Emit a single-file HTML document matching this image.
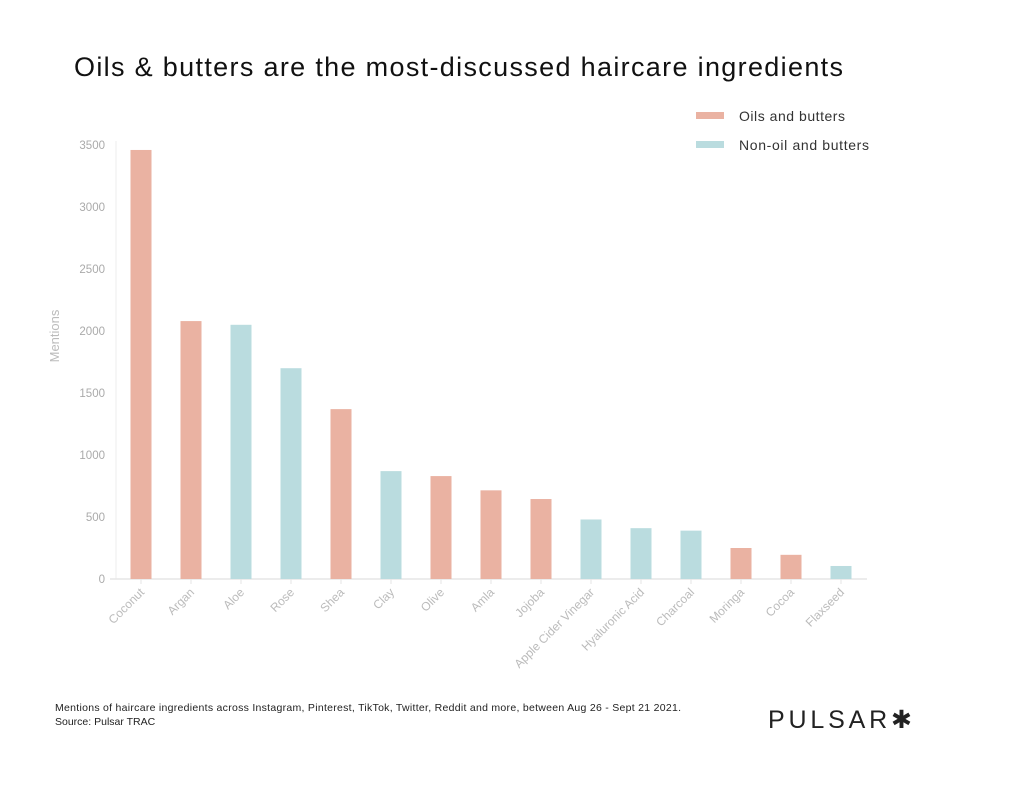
<!DOCTYPE html>
<html><head><meta charset="utf-8"><style>
body{margin:0;background:#fff;font-family:"Liberation Sans",sans-serif;}
#wrap{position:relative;width:1024px;height:802px;overflow:hidden;background:#fff}
</style></head><body>
<div id="wrap">
<svg id="chart" width="1024" height="802">
<text x="74" y="76" font-size="27" fill="#111" textLength="769" lengthAdjust="spacing">Oils &amp; butters are the most-discussed haircare ingredients</text>
<g>
<rect x="696" y="112" width="28" height="7" fill="#EAB2A2"/>
<text x="739" y="121" font-size="14" fill="#333" textLength="106" lengthAdjust="spacing">Oils and butters</text>
<rect x="696" y="141" width="28" height="7" fill="#BADCDF"/>
<text x="739" y="150" font-size="14" fill="#333" textLength="130" lengthAdjust="spacing">Non-oil and butters</text>
</g>
<text transform="translate(59,336) rotate(-90)" text-anchor="middle" font-size="13" fill="#bbb">Mentions</text>
<g id="axes"></g><g id="bars"></g>
<text x="55" y="711" font-size="10.5" fill="#222" textLength="626" lengthAdjust="spacing">Mentions of haircare ingredients across Instagram, Pinterest, TikTok, Twitter, Reddit and more, between Aug 26 - Sept 21 2021.</text>
<text x="55" y="725" font-size="10.5" fill="#222">Source: Pulsar TRAC</text>
<text x="768" y="728" font-size="25" fill="#222" textLength="144" lengthAdjust="spacing">PULSAR✱</text>
</svg>
</div>
<script>
const categories=["Coconut","Argan","Aloe","Rose","Shea","Clay","Olive","Amla","Jojoba","Apple Cider Vinegar","Hyaluronic Acid","Charcoal","Moringa","Cocoa","Flaxseed"];
const mentions=[3460,2080,2050,1700,1370,870,830,715,645,480,410,390,250,195,105];
const isOil=[1,1,0,0,1,0,1,1,1,0,0,0,1,1,0];
const yTicks=[0,500,1000,1500,2000,2500,3000,3500];
const NS="http://www.w3.org/2000/svg";
const y0=579,pxPer=62/500,x0=141,step=50,bw=21;
const yS=v=>y0-v*pxPer, xS=i=>x0+i*step;
function mk(t,a,p){const e=document.createElementNS(NS,t);for(const k in a)e.setAttribute(k,a[k]);p.appendChild(e);return e;}
const ax=document.getElementById('axes'),bg=document.getElementById('bars');
mk('line',{x1:116,y1:yS(3500)-4,x2:116,y2:y0,stroke:'#eee','stroke-width':1},ax);
mk('line',{x1:110,y1:y0,x2:867,y2:y0,stroke:'#e6e6e6','stroke-width':1.5},ax);
yTicks.forEach(v=>{const t=mk('text',{x:105,y:yS(v)+4,'text-anchor':'end','font-size':11.5,fill:'#aaa'},ax);t.textContent=v;

});
categories.forEach((c,i)=>{const cx=xS(i);
const r=mk('rect',{x:cx-bw/2,y:yS(mentions[i]),width:bw,height:mentions[i]*pxPer,fill:isOil[i]?'#EAB2A2':'#BADCDF'},bg);


mk('line',{x1:cx,y1:y0,x2:cx,y2:y0+5,stroke:'#e6e6e6'},ax);
const t=mk('text',{transform:`translate(${cx+4},${y0+14}) rotate(-45)`,'text-anchor':'end','font-size':12,fill:'#bbb'},ax);t.textContent=c;

});
</script>
</body></html>
